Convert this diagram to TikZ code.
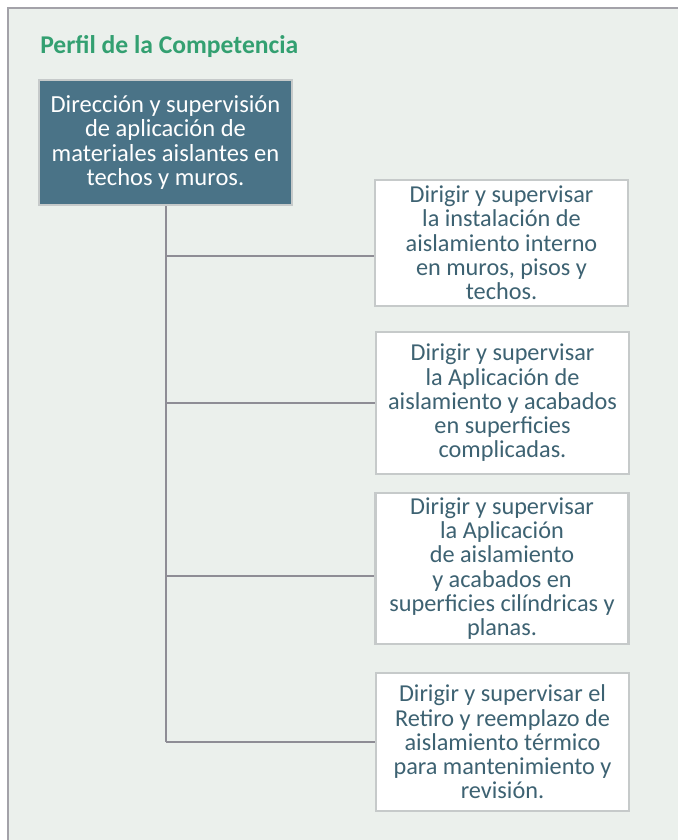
\documentclass[tikz,border=0pt]{standalone}
\usepackage{fontspec}
\setmainfont{Carlito}
\usepackage{xcolor}

\definecolor{panelbg}{HTML}{EBF0EC}
\definecolor{panelline}{HTML}{A3A2A9}
\definecolor{titlegreen}{HTML}{33A071}
\definecolor{mainfill}{HTML}{4A7387}
\definecolor{boxline}{HTML}{C6CACA}
\definecolor{subtext}{HTML}{3D6272}
\definecolor{connline}{HTML}{8E8D95}

\begin{document}
\begin{tikzpicture}[x=0.75pt,y=-0.75pt,
    main node/.style={draw=boxline,line width=1.8pt,fill=mainfill,text=white,align=center,
        minimum width=189.75pt,inner sep=1pt,font=\fontsize{18.4}{18.4}\selectfont},
    sub node/.style={draw=boxline,line width=1.6pt,fill=white,text=subtext,align=center,
        minimum width=189.75pt,inner sep=1pt,font=\fontsize{18.2}{18.2}\selectfont},
    conn/.style={draw=connline,line width=1.5pt}]

    \useasboundingbox (0,0) rectangle (678,840);
    \fill[panelbg] (8,8) rectangle (678,840);
    \draw[panelline,line width=1.5pt] (678,8) -- (8,8) -- (8,840);

    \node[anchor=base west,inner sep=0pt,text=titlegreen,font=\fontsize{19.2}{20}\selectfont\bfseries] (title) at (40,53) {Perfil de la Competencia};

    \node[main node,minimum height=93.75pt] (main) at (165.5,142.5) {Dirección y supervisión\\de aplicación de\\materiales aislantes en\\techos y muros.};

    \node[sub node,minimum height=94.5pt] (b1) at (501.5,243) {Dirigir y supervisar\\la instalación de\\aislamiento interno\\en muros, pisos y\\techos.};
    \node[sub node,minimum height=106.5pt] (b2) at (502.5,403) {Dirigir y supervisar\\la Aplicación de\\aislamiento y acabados\\en superficies\\complicadas.};
    \node[sub node,minimum height=113pt] (b3) at (502,568.5) {Dirigir y supervisar\\la Aplicación\\de aislamiento\\y acabados en\\superficies cilíndricas y\\planas.};
    \node[sub node,minimum height=103.5pt] (b4) at (502.5,742) {Dirigir y supervisar el\\Retiro y reemplazo de\\aislamiento térmico\\para mantenimiento y\\revisión.};

    % connector ends on the boxes
    \path (b1.west) ++(0,13) coordinate (c1);
    \path (b2.west) coordinate (c2);
    \path (b3.west) ++(0,7.5) coordinate (c3);
    \path (b4.west) coordinate (c4);

    \path[conn]
        (main.south) edge (main.south |- c4)
        (main.south |- c1) edge (c1)
        (main.south |- c2) edge (c2)
        (main.south |- c3) edge (c3)
        (main.south |- c4) edge (c4)
    ;
\end{tikzpicture}
\end{document}
